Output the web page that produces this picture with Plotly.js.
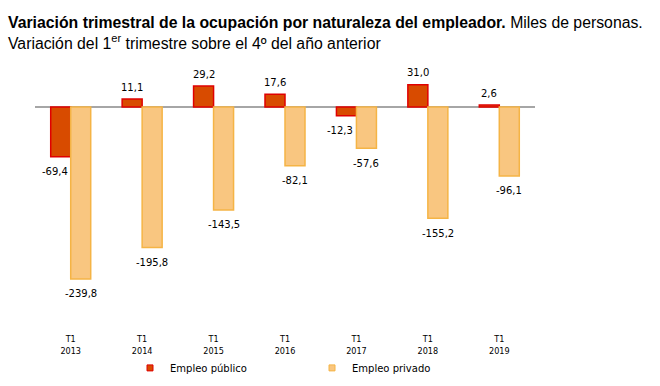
<!DOCTYPE html>
<html>
<head>
<meta charset="utf-8">
<script src="https://cdn.plot.ly/plotly-3.0.1.min.js"></script>
<style>html,body{margin:0;padding:0;background:#fff;}#chart{width:660px;height:386px;}</style>
</head>
<body>
<div id="chart"></div>
<script>
var categories = ["T1<br>2013", "T1<br>2014", "T1<br>2015", "T1<br>2016", "T1<br>2017", "T1<br>2018", "T1<br>2019"];
var publico = [-69.4, 11.1, 29.2, 17.6, -12.3, 31.0, 2.6];
var privado = [-239.8, -195.8, -143.5, -82.1, -57.6, -155.2, -96.1];
var seriesNames = ["Empleo público", "Empleo privado"];

var pubFill = "#D84B00", pubLine = "#E00000";
var privFill = "#F9C680", privLine = "#F5B445";

function fmt(v) { return v.toFixed(1).replace(".", ","); }

var traces = [
  {type: "bar", name: seriesNames[0], x: categories, y: publico, showlegend: false,
   marker: {color: pubFill, line: {color: pubLine, width: 1.5}}, hoverinfo: "skip"},
  {type: "bar", name: seriesNames[1], x: categories, y: privado, showlegend: false,
   marker: {color: privFill, line: {color: privLine, width: 1.5}}, hoverinfo: "skip"},
  {type: "scatter", mode: "markers", name: seriesNames[0], x: [null], y: [null],
   marker: {symbol: "square", size: 6, color: pubFill, line: {color: pubLine, width: 1}}},
  {type: "scatter", mode: "markers", name: seriesNames[1], x: [null], y: [null],
   marker: {symbol: "square", size: 6, color: privFill, line: {color: privLine, width: 1}}}
];

var annotations = [];
categories.forEach(function (c, i) {
  var vp = publico[i], vq = privado[i];
  annotations.push({x: c, y: vp, xref: "x", yref: "y", text: fmt(vp), showarrow: false,
    xshift: vp < 0 ? -16 : -10, yshift: vp < 0 ? -15 : 12,
    font: {family: "DejaVu Sans, sans-serif", size: 10, color: "#000"}});
  annotations.push({x: c, y: vq, xref: "x", yref: "y", text: fmt(vq), showarrow: false,
    xshift: 10, yshift: vq < 0 ? -15 : 12,
    font: {family: "DejaVu Sans, sans-serif", size: 10, color: "#000"}});
});

var layout = {
  width: 660, height: 386,
  paper_bgcolor: "#fff", plot_bgcolor: "#fff",
  margin: {l: 35, r: 125, t: 60, b: 54, autoexpand: false},
  title: {
    text: "<b>Variación trimestral de la ocupación por naturaleza del empleador.</b> Miles de personas.<br>Variación del 1<sup>er</sup> trimestre sobre el 4º del año anterior",
    x: 8 / 660, xanchor: "left", xref: "container",
    y: 1 - 28 / 386, yanchor: "top", yref: "container",
    font: {family: "Liberation Sans, Arial, sans-serif", size: 15.8, color: "#000"}
  },
  barmode: "group", bargap: 0.44, bargroupgap: 0,
  xaxis: {type: "category", range: [-0.5, 6.5], showline: false, showgrid: false, zeroline: false,
    ticks: "", tickfont: {family: "DejaVu Sans Condensed, Liberation Sans, sans-serif", size: 9, color: "#000"}},
  yaxis: {range: [-313.8, 65.5], showgrid: false, showticklabels: false, ticks: "",
    zeroline: true, zerolinecolor: "#A6A6A6", zerolinewidth: 1.5, fixedrange: true},
  showlegend: true,
  legend: {orientation: "h", x: 0.19, xanchor: "left", y: -0.132, yanchor: "middle",
    entrywidth: 137, entrywidthmode: "pixels",
    font: {family: "DejaVu Sans, sans-serif", size: 10, color: "#000"}, bgcolor: "rgba(0,0,0,0)"},
  annotations: annotations,
  separators: ",."
};

Plotly.newPlot("chart", traces, layout, {displayModeBar: false, staticPlot: true});
</script>
</body>
</html>
